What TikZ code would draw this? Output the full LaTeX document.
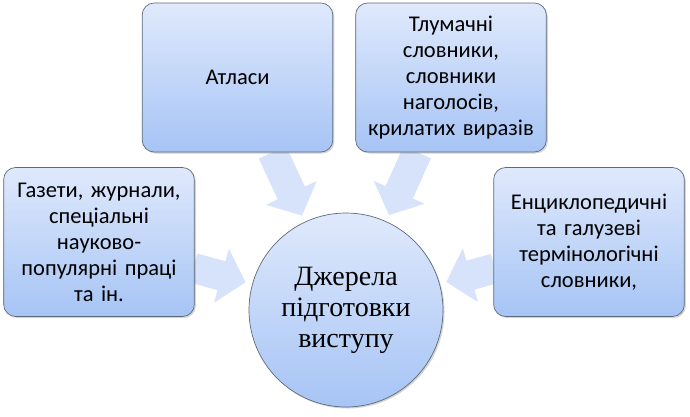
\documentclass[tikz,border=0pt]{standalone}
\usepackage{fontspec}
\setmainfont{Carlito}
\newfontfamily\circfont{Liberation Serif}
\usetikzlibrary{calc,shadows}
\definecolor{boxtop}{HTML}{DFE9FC}
\definecolor{boxbot}{HTML}{A6C4F5}
\definecolor{boxline}{HTML}{5F6B7A}
\definecolor{arrowfill}{HTML}{D6E3FA}
\tikzset{
  srcbox/.style={rectangle, rounded corners=12pt, draw=boxline, line width=0.7pt,
    top color=boxtop, bottom color=boxbot, minimum width=188pt, minimum height=149pt,
    align=center, text width=184pt, font=\fontsize{22.5}{26}\selectfont,
    drop shadow={opacity=0.35, shadow xshift=1.5pt, shadow yshift=-1.5pt}},
  hub/.style={circle, draw=boxline, line width=0.7pt, top color=boxtop, bottom color=boxbot,
    minimum size=194pt, inner sep=0pt, align=center,
    font=\circfont\fontsize{28}{31}\selectfont,
    drop shadow={opacity=0.35, shadow xshift=1.5pt, shadow yshift=-1.5pt}},
  frame/.style={rectangle, minimum width=188pt, minimum height=149pt, inner sep=0pt},
  hubframe/.style={circle, minimum size=194pt, inner sep=0pt},
  blockarrow/.style={fill=arrowfill, draw=none}
}
\begin{document}
\begin{tikzpicture}[x=1pt,y=-1pt]
\useasboundingbox (0,0) rectangle (690,416);
% geometry frames (invisible) used to place the arrows
\node[hubframe] (C0) at (346,310) {};
\node[frame] (L0) at (99,242) {};
\node[frame] (A0) at (237.5,77.5) {};
\node[frame] (T0) at (451,77.5) {};
\node[frame] (R0) at (589,242) {};
% arrows
\foreach \s in {L0,A0,T0,R0}{
  \path (\s) -- (C0) coordinate[pos=0] (P) coordinate[pos=1] (E);
  \coordinate (Q) at ($(E)!7pt!(P)$);
  \coordinate (H) at ($(Q)!25pt!(P)$);
  \fill[blockarrow]
    ($(P)!15pt!90:(Q)$) -- ($(H)!15pt!-90:(P)$) -- ($(H)!28pt!-90:(P)$) -- (Q)
    -- ($(H)!28pt!90:(P)$) -- ($(H)!15pt!90:(P)$) -- ($(P)!15pt!-90:(Q)$) -- cycle;
}
% boxes
\node[srcbox] (L) at (L0) {Газети, журнали,\\ спеціальні\\ науково-\\ популярні праці\\ та ін.};
\node[srcbox] (A) at (A0) {Атласи};
\node[srcbox] (T) at (T0) {Тлумачні\\ словники,\\ словники\\ наголосів,\\ крилатих виразів};
\node[srcbox] (R) at (R0) {Енциклопедичні\\ та галузеві\\ термінологічні\\ словники,};
\node[hub] (C) at (C0) {Джерела\\ підготовки\\ виступу};
\end{tikzpicture}
\end{document}
